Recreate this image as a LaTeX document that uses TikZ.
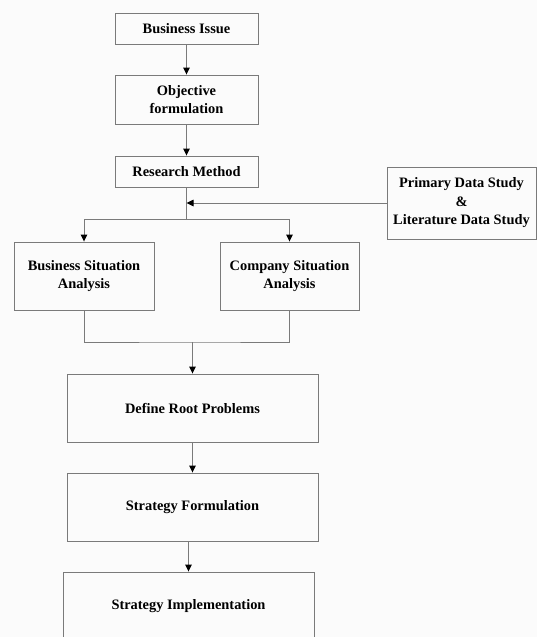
\documentclass[tikz,border=0pt]{standalone}
\usepackage{fontspec}
\setmainfont{Liberation Serif}
\usetikzlibrary{arrows.meta}
\definecolor{linecol}{HTML}{7A7A7A}
\definecolor{bgcol}{HTML}{FBFBFB}

\begin{document}
\begin{tikzpicture}[x=1pt, y=-1pt,
  box/.style={draw=linecol, line width=0.9pt, align=center, inner sep=0pt,
    font=\fontsize{14.4}{18.5}\selectfont\bfseries},
  link/.style={draw=linecol, line width=0.9pt},
  arr/.style={link, -{Triangle[length=7pt, width=6.5pt, color=black]}}]
  \clip (0,0) rectangle (537,637);
  \fill[bgcol] (0,0) rectangle (537,637);
  % main column
  \node[box, minimum width=143pt, minimum height=31pt] (issue) at (186.5,28.5) {Business Issue};
  \node[box, minimum width=143pt, minimum height=49pt] (objective) at (186.5,99.5) {Objective\\formulation};
  \node[box, minimum width=143pt, minimum height=31pt] (method) at (186.5,171.5) {Research Method};
  \node[box, minimum width=149pt, minimum height=72pt] (data) at (461.5,203) {Primary Data Study\\\&\\Literature Data Study};
  \node[box, minimum width=140pt, minimum height=68pt] (bsa) at (84,276) {Business Situation\\Analysis};
  \node[box, minimum width=139pt, minimum height=68pt] (csa) at (289.5,276) {Company Situation\\Analysis};
  \node[box, minimum width=251pt, minimum height=68pt] (root) at (192.5,408) {Define Root Problems};
  \node[box, minimum width=251pt, minimum height=68pt] (formul) at (192.5,507) {Strategy Formulation};
  \node[box, minimum width=251pt, minimum height=68pt] (impl) at (188.5,606) {Strategy Implementation};
  \coordinate (split) at (186.5,219);
  \coordinate (merge) at (192.5,342);
  % connectors
  \draw[arr] (issue.south) -- (objective.north);
  \draw[arr] (objective.south) -- (method.north);
  \draw[link] (method.south) -- (split);
  \draw[arr] (data.west) -- (data.west -| method.south);
  \draw[arr] (split) -| (bsa.north);
  \draw[arr] (split) -| (csa.north);
  \draw[link] (bsa.south) |- (merge) -| (csa.south);
  \draw[arr] (merge) -- (root.north);
  \draw[arr] (root.south) -- (formul.north);
  \draw[arr] (formul.south -| impl.north) -- (impl.north);
\end{tikzpicture}
\end{document}
